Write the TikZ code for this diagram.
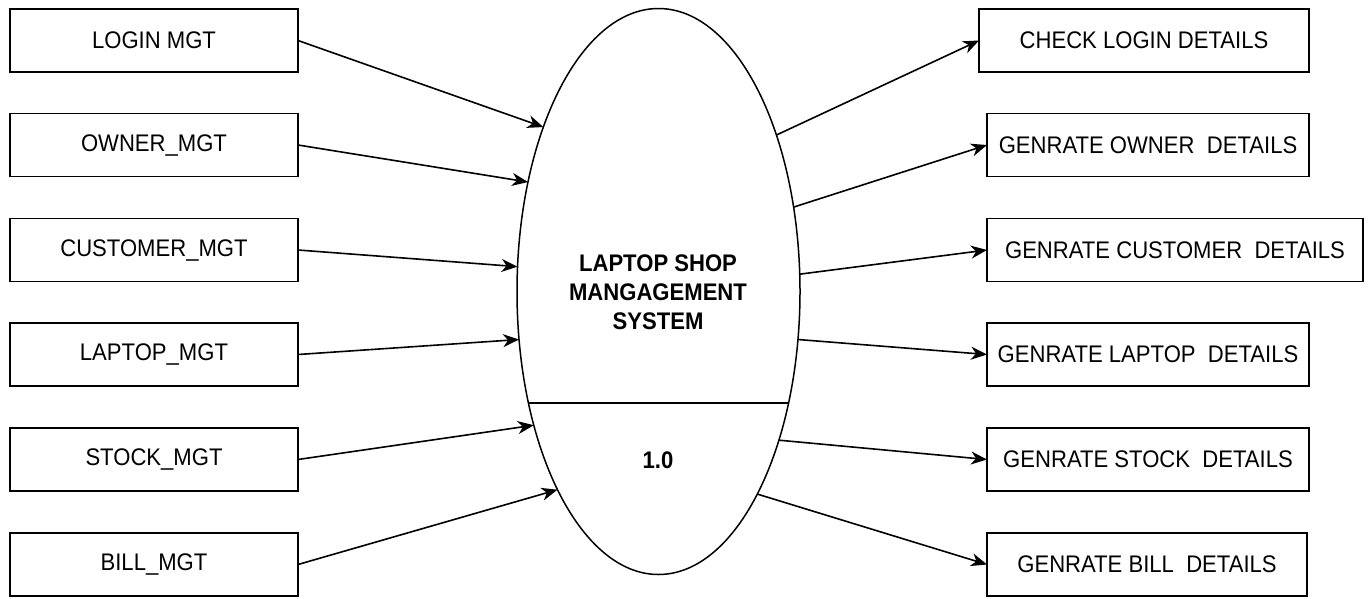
\documentclass[tikz,border=0pt]{standalone}
\usepackage{fontspec}
\setmainfont{Liberation Sans}[FakeStretch=0.92]
\usetikzlibrary{shapes.geometric,arrows.meta,calc}
\begin{document}
\begin{tikzpicture}[x=1pt,y=-1pt,
  box/.style={draw,line width=1.5pt,rectangle,minimum height=63pt,inner sep=0pt,outer sep=0pt,font=\fontsize{24}{28}\selectfont},
  flow/.style={line width=1.6pt,-{Stealth[length=16pt,width=13pt,inset=5pt]}},
  lbl/.style={font=\fontsize{24}{29}\selectfont\bfseries,align=center,inner sep=0pt}]
\useasboundingbox (0,0) rectangle (1368,598);
% left boxes
\node[box,minimum width=288pt] (l1) at (154,40.5) {LOGIN MGT};
\node[box,minimum width=288pt] (l2) at (154,145) {OWNER\_MGT};
\node[box,minimum width=288pt] (l3) at (154,250) {CUSTOMER\_MGT};
\node[box,minimum width=288pt] (l4) at (154,354.5) {LAPTOP\_MGT};
\node[box,minimum width=288pt] (l5) at (154,459.5) {STOCK\_MGT};
\node[box,minimum width=288pt] (l6) at (154,564.5) {BILL\_MGT};
% right boxes
\node[box,minimum width=330pt] (r1) at (1144,40.5) {CHECK LOGIN DETAILS};
\node[box,minimum width=322pt] (r2) at (1148,145) {GENRATE OWNER\ \ DETAILS};
\node[box,minimum width=376pt] (r3) at (1175,250) {GENRATE CUSTOMER\ \ DETAILS};
\node[box,minimum width=322pt] (r4) at (1148,354.5) {GENRATE LAPTOP\ \ DETAILS};
\node[box,minimum width=322pt] (r5) at (1148,459.5) {GENRATE STOCK\ \ DETAILS};
\node[box,minimum width=320pt] (r6) at (1147,564.5) {GENRATE BILL\ \ DETAILS};
% process ellipse
\node[draw,ellipse,line width=1.5pt,minimum width=283pt,minimum height=566pt,inner sep=0pt,outer sep=0pt] (E) at (658.5,291.5) {};
\draw[line width=1.5pt] ($(E.center)+(-130,111.5)$) coordinate (hl) -- ($(E.center)+(130,111.5)$) coordinate (hr);
\node[lbl] (title) at (658,292) {LAPTOP SHOP\\MANGAGEMENT\\SYSTEM};
\node[lbl] (num) at (658,460) {1.0};
% inputs
\draw[flow] (l1.east) -- (E.125.5);
\draw[flow] (l2.east) -- (E.140.6);
\draw[flow] (l3.east) -- (E.170.3);
\draw[flow] (l4.east) -- (E.199.7);
\draw[flow] (l5.east) -- (E.227.8);
\draw[flow] (l6.east) -- (E.243.5);
% outputs
\draw[flow] (E.53.2) -- (r1.west);
\draw[flow] (E.32.4) -- (r2.west);
\draw[flow] (E.7.8) -- (r3.west);
\draw[flow] (E.341.8) -- (r4.west);
\draw[flow] (E.309.9) -- (r5.west);
\draw[flow] (E.296.5) -- (r6.west);
\end{tikzpicture}
\end{document}
